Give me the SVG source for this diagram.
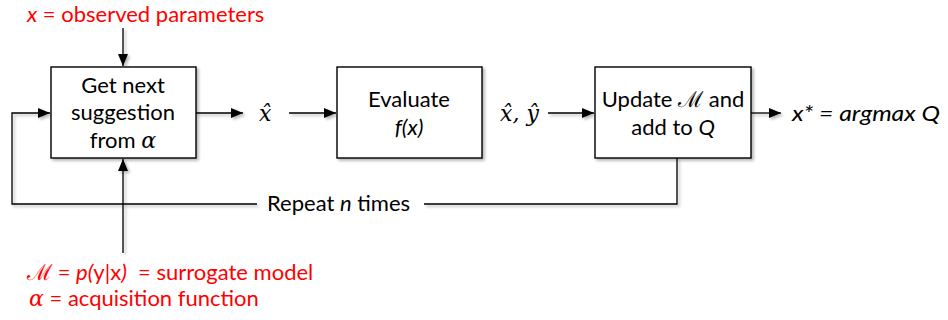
<svg xmlns="http://www.w3.org/2000/svg" width="948" height="320" viewBox="0 0 948 320">
<style>
.box{fill:#fff;stroke:#000;stroke-width:1.4}
.ln{fill:none;stroke:#000;stroke-width:1.3}
.t{font-family:Lato,"Liberation Sans",sans-serif;font-size:22px;fill:#000}
.red{fill:#f00}
.c{text-anchor:middle}
.i{font-style:italic}
.m{font-family:"DejaVu Serif","Liberation Serif",serif;font-style:italic}
.s{font-family:"DejaVu Serif","Liberation Serif",serif;font-style:normal}
.pre{white-space:pre}
</style>
<defs>
<filter id="sh" x="-10%" y="-10%" width="130%" height="130%">
<feDropShadow dx="2" dy="2" stdDeviation="1.5" flood-color="#000" flood-opacity="0.3"/>
</filter>
<marker id="ah" viewBox="0 0 12 10" refX="12" refY="5" markerWidth="12" markerHeight="10" markerUnits="userSpaceOnUse" orient="auto">
<path d="M0,0L12,5L0,10z" fill="#000"/>
</marker>
</defs>
<g id="connectors" filter="url(#sh)">
<line class="ln" x1="123" y1="28" x2="123" y2="66" marker-end="url(#ah)"/>
<line class="ln" x1="123" y1="253" x2="123" y2="159" marker-end="url(#ah)"/>
<polyline class="ln" points="257,204 12,204 12,113 50,113" marker-end="url(#ah)"/>
<line class="ln" x1="196" y1="113" x2="243" y2="113" marker-end="url(#ah)"/>
<line class="ln" x1="289" y1="113" x2="336" y2="113" marker-end="url(#ah)"/>
<line class="ln" x1="548" y1="113" x2="594" y2="113" marker-end="url(#ah)"/>
<line class="ln" x1="751" y1="113" x2="781" y2="113" marker-end="url(#ah)"/>
<polyline class="ln" points="677,158 677,204 424,204"/>
</g>
<g id="n1">
<rect class="box" x="51" y="67" width="145" height="91" filter="url(#sh)"/>
<text class="t c" x="123" y="93">Get next</text>
<text class="t c" x="123" y="120">suggestion</text>
<text class="t c" x="123" y="148">from <tspan class="m">α</tspan></text>
</g>
<g id="n2">
<rect class="box" x="337" y="67" width="145" height="91" filter="url(#sh)"/>
<text class="t c" x="409" y="107">Evaluate</text>
<text class="t c i" x="409" y="135">f(x)</text>
</g>
<g id="n3">
<rect class="box" x="595" y="67" width="156" height="91" filter="url(#sh)"/>
<text class="t c" x="673" y="107">Update <tspan class="s">ℳ</tspan> and</text>
<text class="t c" x="673" y="135">add to <tspan class="i">Q</tspan></text>
</g>
<g id="labels">
<text class="t m" x="259" y="121">x̂</text>
<text class="t m" x="500" y="121">x̂, ŷ</text>
<text class="t i" x="792" y="121" textLength="148" lengthAdjust="spacingAndGlyphs">x* = argmax Q</text>
<text class="t" x="267" y="211">Repeat <tspan class="i">n</tspan> times</text>
<text class="t red" x="27" y="22"><tspan class="i">x</tspan> = observed parameters</text>
<text class="t red pre" x="27" y="280"><tspan class="s">ℳ</tspan> = <tspan class="i">p(</tspan>y|x<tspan class="i">)</tspan>  = surrogate model</text>
<text class="t red" x="29" y="306"><tspan class="m">α</tspan> = acquisition function</text>
</g>
</svg>
